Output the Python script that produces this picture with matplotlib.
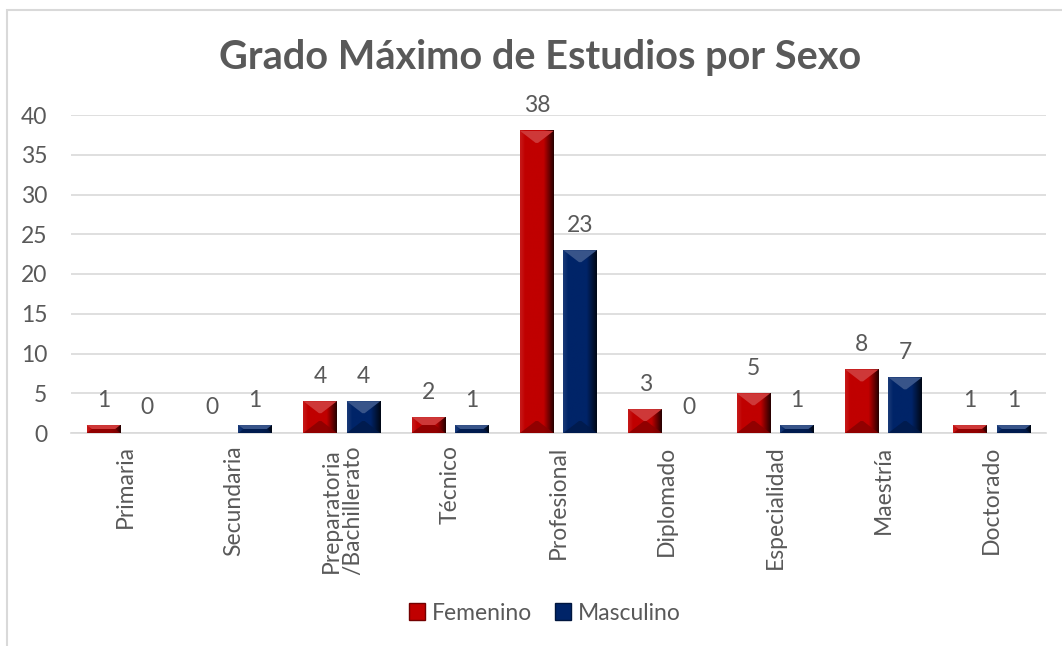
import numpy as np
import matplotlib.pyplot as plt
from matplotlib.patches import Polygon, Rectangle
from matplotlib.colors import to_rgb

plt.rcParams['font.family'] = ['Lato', 'DejaVu Sans']

# Data
categories = ['Primaria', 'Secundaria', 'Preparatoria\n/Bachillerato', 'Técnico',
              'Profesional', 'Diplomado', 'Especialidad', 'Maestría', 'Doctorado']
femenino = [1, 0, 4, 2, 38, 3, 5, 8, 1]
masculino = [0, 1, 4, 1, 23, 0, 1, 7, 1]
series_names = ['Femenino', 'Masculino']
series_colors = ['#C00000', '#002468']

TEXT = '#595959'
GRID = '#D9D9D9'
FS = 16.5

fig = plt.figure(figsize=(10.62, 6.46), dpi=100)
ax = fig.add_axes([71 / 1062, 1 - 433 / 646, 975 / 1062, 318 / 646])

# chart border (only left/top visible in the crop)
fig.patches.append(Rectangle((7 / 1062, -0.1), 1.2, 1 - 10 / 646 + 0.1,
                             transform=fig.transFigure, fill=False,
                             edgecolor=GRID, linewidth=1.5))

x = np.arange(len(categories))
width = 0.31
offsets = [-0.2, 0.2]
ax.set_xlim(-0.5, len(categories) - 0.5)
ax.set_ylim(0, 40)

px_per_unit = 318 / 40
px_per_x = 975 / len(categories)


def mix(c, other, t):
    c = np.array(to_rgb(c))
    o = np.array(to_rgb(other))
    return tuple(c * (1 - t) + o * t)


def bevel_bar(xc, h, color):
    if h <= 0:
        return
    x0, x1 = xc - width / 2, xc + width / 2
    # horizontal gradient face
    grad = np.linspace(0, 1, 64)
    cols = []
    for g in grad:
        if g < 0.15:
            cols.append(mix(color, 'white', 0.10 * (1 - g / 0.15)))
        elif g < 0.7:
            cols.append(to_rgb(color))
        else:
            cols.append(mix(color, 'black', 0.8 * (g - 0.7) / 0.3))
    img = np.array(cols)[None, :, :]
    ax.imshow(img, extent=[x0, x1, 0, h], aspect='auto', zorder=3,
              interpolation='bilinear')
    d = min(12 / px_per_unit, h / 2)
    dx = min((width / 2) * 0.95, d * 1.3 * px_per_unit / px_per_x)
    top = Polygon([(x0, h), (x1, h), (x1 - dx, h - d), (x0 + dx, h - d)],
                  closed=True, facecolor=mix(color, 'white', 0.22),
                  edgecolor='none', zorder=4)
    bot = Polygon([(x0, 0), (x1, 0), (x1 - dx, d), (x0 + dx, d)],
                  closed=True, facecolor=mix(color, 'black', 0.3),
                  edgecolor='none', zorder=4, alpha=0.8)
    ax.add_patch(top)
    ax.add_patch(bot)


for vals, off, col in zip([femenino, masculino], offsets, series_colors):
    bars = ax.bar(x + off, vals, width, color='none', zorder=2)
    for b, v in zip(bars, vals):
        bevel_bar(b.get_x() + b.get_width() / 2, v, col)
        ax.annotate(str(v), (b.get_x() + b.get_width() / 2, v),
                    xytext=(0, 18), textcoords='offset points',
                    ha='center', va='center', fontsize=FS, color=TEXT)

ax.set_yticks(range(0, 41, 5))
ax.yaxis.grid(True, color=GRID, linewidth=1.2)
ax.set_axisbelow(True)
for s in ['top', 'right', 'left']:
    ax.spines[s].set_visible(False)
ax.spines['bottom'].set_color(GRID)
ax.spines['bottom'].set_linewidth(1.2)
ax.tick_params(axis='both', length=0, labelsize=FS, labelcolor=TEXT)
ax.tick_params(axis='y', pad=17)
ax.set_xticks(x)
ax.set_xticklabels(categories, rotation=90, va='top', ha='center',
                   multialignment='center', linespacing=1.05)
ax.tick_params(axis='x', pad=9)

fig.text(540 / 1062, 1 - 58 / 646, 'Grado Máximo de Estudios por Sexo',
         ha='center', va='center', fontsize=28.5, fontweight='bold', color=TEXT)

# legend
handles = [Rectangle((0, 0), 1, 1, facecolor=c, edgecolor=mix(c, 'black', 0.4))
           for c in series_colors]
fig.legend(handles, series_names, loc='center', bbox_to_anchor=(545 / 1062, 1 - 613 / 646),
           ncol=2, frameon=False, fontsize=FS, labelcolor=TEXT,
           handlelength=0.7, handleheight=0.7, handletextpad=0.3, columnspacing=1.0)

fig.savefig('out.png', dpi=100)
